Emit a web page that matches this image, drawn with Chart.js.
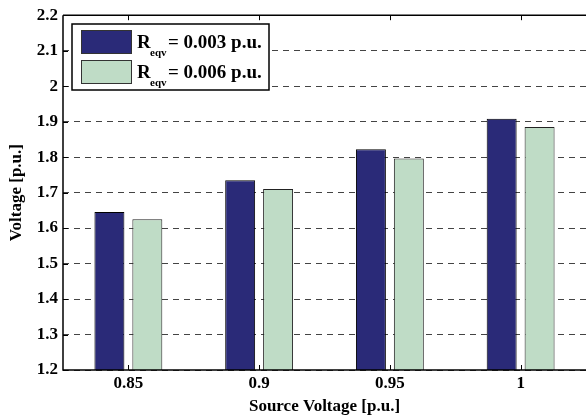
<!DOCTYPE html>
<html>
<head>
<meta charset="utf-8">
<script src="https://cdn.jsdelivr.net/npm/chart.js@4.4.1/dist/chart.umd.min.js"></script>
<style>
  html, body { margin: 0; padding: 0; background: #fff; }
  #wrap { width: 586px; height: 415px; }
</style>
</head>
<body>
<div id="wrap"><canvas id="chart" width="586" height="415"></canvas></div>
<script>
const categories = ['0.85', '0.9', '0.95', '1'];
const req003 = [1.645, 1.735, 1.822, 1.908];
const req006 = [1.625, 1.710, 1.796, 1.885];
const legendValues = ['= 0.003 p.u.', '= 0.006 p.u.'];
const yMin = 1.2;
const yMax = 2.2;
const yStep = 0.1;

const bleu = '#2a2a78';
const vert = '#bfdcc6';
const police = "'Liberation Serif', 'Times New Roman', serif";

// cadre noir + petites graduations vers l'intérieur
const cadrePlugin = {
    id: 'cadre',
    afterDatasetsDraw(chart) {
        const ctx = chart.ctx;
        const a = chart.chartArea;
        const x = chart.scales.x;
        const y = chart.scales.y;
        ctx.save();
        ctx.strokeStyle = '#000';
        ctx.lineWidth = 1.5;
        ctx.beginPath();
        ctx.moveTo(a.left, a.top);
        ctx.lineTo(a.right + 2, a.top);
        ctx.moveTo(a.left, a.top);
        ctx.lineTo(a.left, a.bottom);
        ctx.lineTo(a.right + 2, a.bottom);
        ctx.stroke();

        ctx.lineWidth = 1;
        ctx.beginPath();
        y.ticks.forEach(t => {
            const py = Math.round(y.getPixelForValue(t.value)) + 0.5;
            ctx.moveTo(a.left, py);
            ctx.lineTo(a.left + 5, py);
        });
        categories.forEach((c, i) => {
            const px = Math.round(x.getPixelForValue(i)) + 0.5;
            ctx.moveTo(px, a.top);
            ctx.lineTo(px, a.top + 5);
            ctx.moveTo(px, a.bottom);
            ctx.lineTo(px, a.bottom - 5);
        });
        ctx.stroke();
        ctx.restore();
    }
};

// légende avec indice "eqv"
const legendePlugin = {
    id: 'legende',
    afterDraw(chart) {
        const ctx = chart.ctx;
        ctx.save();
        ctx.fillStyle = '#fff';
        ctx.fillRect(72, 24, 197, 66);
        ctx.strokeStyle = '#000';
        ctx.lineWidth = 1.5;
        ctx.strokeRect(72, 24, 197, 66);

        chart.data.datasets.forEach((ds, i) => {
            const top = 30 + i * 30;
            ctx.fillStyle = ds.backgroundColor;
            ctx.fillRect(81.5, top, 50, 23);
            ctx.strokeStyle = '#333';
            ctx.lineWidth = 1;
            ctx.strokeRect(81.5, top + 0.5, 50, 23);

            ctx.fillStyle = '#000';
            ctx.textBaseline = 'alphabetic';
            ctx.textAlign = 'left';
            ctx.font = 'bold 19px ' + police;
            ctx.fillText('R', 137, top + 18);
            ctx.font = 'bold 11px ' + police;
            ctx.fillText('eqv', 150, top + 26);
            ctx.font = 'bold 19px ' + police;
            ctx.fillText(legendValues[i], 168, top + 18);
        });
        ctx.restore();
    }
};

new Chart(document.getElementById('chart'), {
    type: 'bar',
    data: {
        labels: categories,
        datasets: [
            {
                label: 'Reqv = 0.003 p.u.',
                data: req003,
                backgroundColor: bleu,
                borderColor: '#000',
                borderWidth: 1,
                categoryPercentage: 0.58,
                barPercentage: 0.79
            },
            {
                label: 'Reqv = 0.006 p.u.',
                data: req006,
                backgroundColor: vert,
                borderColor: '#222',
                borderWidth: 1,
                categoryPercentage: 0.58,
                barPercentage: 0.79
            }
        ]
    },
    options: {
        responsive: false,
        animation: false,
        layout: { padding: { top: 15, right: 0, bottom: 0, left: 0 } },
        plugins: {
            legend: { display: false },
            tooltip: { enabled: false }
        },
        scales: {
            x: {
                grid: { display: false, drawTicks: false },
                border: { display: false },
                ticks: {
                    color: '#000',
                    padding: 3,
                    font: { family: police, size: 17, weight: 'bold' }
                },
                title: {
                    display: true,
                    text: 'Source Voltage [p.u.]',
                    color: '#000',
                    padding: 0,
                    font: { family: police, size: 17, weight: 'bold', lineHeight: 1 }
                },
                afterFit(scale) { scale.height = 45; }
            },
            y: {
                min: yMin,
                max: yMax,
                grid: {
                    color: '#444',
                    lineWidth: 1,
                    drawTicks: false
                },
                border: { display: false, dash: [6, 5] },
                ticks: {
                    stepSize: yStep,
                    autoSkip: false,
                    color: '#000',
                    padding: 5,
                    font: { family: police, size: 17, weight: 'bold' },
                    callback: v => Number(v.toFixed(1)).toString()
                },
                title: {
                    display: true,
                    text: 'Voltage [p.u.]',
                    color: '#000',
                    padding: { top: 8, bottom: 0 },
                    font: { family: police, size: 17, weight: 'bold', lineHeight: 1 }
                },
                afterFit(scale) { scale.width = 63; }
            }
        }
    },
    plugins: [cadrePlugin, legendePlugin]
});
</script>
</body>
</html>
